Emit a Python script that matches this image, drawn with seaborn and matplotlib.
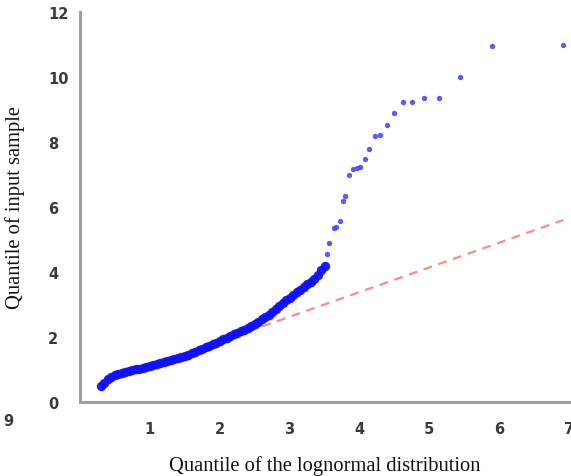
import matplotlib
matplotlib.use("Agg")
import matplotlib.pyplot as plt
import seaborn as sns
import pandas as pd

# dense body of the Q-Q plot (theoretical quantile, sample quantile)
body_x = [0.30, 0.35, 0.40, 0.45, 0.50, 0.55, 0.60, 0.65, 0.70, 0.75,
          0.80, 0.85, 0.90, 0.95, 1.00, 1.05, 1.10, 1.15, 1.20, 1.25,
          1.30, 1.35, 1.40, 1.45, 1.50, 1.55, 1.60, 1.65, 1.70, 1.75,
          1.80, 1.85, 1.90, 1.95, 2.00, 2.05, 2.10, 2.15, 2.20, 2.25,
          2.30, 2.35, 2.40, 2.45, 2.50, 2.55, 2.60, 2.65, 2.70, 2.75,
          2.80, 2.85, 2.90, 2.95, 3.00, 3.05, 3.10, 3.15, 3.20, 3.25,
          3.30, 3.35, 3.40, 3.45, 3.50]
body_y = [0.48, 0.60, 0.70, 0.77, 0.82, 0.86, 0.90, 0.93, 0.96, 0.98,
          1.01, 1.03, 1.06, 1.08, 1.11, 1.14, 1.17, 1.19, 1.22, 1.25,
          1.28, 1.31, 1.34, 1.38, 1.42, 1.46, 1.50, 1.54, 1.59, 1.63,
          1.68, 1.73, 1.78, 1.83, 1.88, 1.93, 1.98, 2.03, 2.08, 2.13,
          2.18, 2.23, 2.29, 2.35, 2.41, 2.47, 2.54, 2.61, 2.69, 2.78,
          2.87, 2.96, 3.05, 3.13, 3.21, 3.30, 3.38, 3.45, 3.53, 3.62,
          3.70, 3.80, 3.91, 4.05, 4.20]

# sparse upper tail
tail_x = [3.53, 3.57, 3.63, 3.67, 3.72, 3.77, 3.80, 3.85, 3.91, 3.96,
          4.01, 4.08, 4.14, 4.23, 4.30, 4.40, 4.50, 4.62, 4.75, 4.93,
          5.14, 5.44, 5.90, 6.92]
tail_y = [4.55, 4.90, 5.36, 5.40, 5.57, 6.18, 6.34, 6.98, 7.17, 7.20,
          7.23, 7.48, 7.78, 8.18, 8.22, 8.53, 8.89, 9.23, 9.23, 9.35,
          9.35, 10.00, 10.95, 10.98]

# reference line end points
ref_x = [0.30, 6.92]
ref_y = [0.57, 5.60]

x_ticks = [1, 2, 3, 4, 5, 6, 7]
y_ticks = [0, 2, 4, 6, 8, 10, 12]

sns.set_style("white")
plt.rcParams["font.family"] = ["DejaVu Sans"]

fig = plt.figure(figsize=(5.71, 4.77), dpi=100)
ax = fig.add_axes([80 / 571, 1 - 403 / 477, (569 - 80) / 571, (403 - 13) / 477])

sns.lineplot(x=ref_x, y=ref_y, ax=ax, color="#ff8a8a", linewidth=1.6,
             linestyle=(0, (4, 3)), zorder=1)
sns.scatterplot(x=body_x, y=body_y, ax=ax, color="#1010ff", s=46,
                linewidth=0, alpha=0.95, zorder=2)
sns.scatterplot(x=tail_x, y=tail_y, ax=ax, color="#4848ff", s=15,
                linewidth=0, alpha=0.9, zorder=2)

ax.set_xlim(0, 7)
ax.set_ylim(0, 12)
ax.set_xticks(x_ticks)
ax.set_yticks(y_ticks)
ax.set_xticklabels([str(t) for t in x_ticks])
ax.set_yticklabels([str(t) for t in y_ticks])

for side in ["top", "right"]:
    ax.spines[side].set_visible(False)
for side in ["left", "bottom"]:
    ax.spines[side].set_color("#a0a0a0")
    ax.spines[side].set_linewidth(2.2)

ax.tick_params(axis="both", direction="in", length=5, width=1.3,
               color="#a0a0a0", labelcolor="#3a3a3a", labelsize=10.5)
ax.tick_params(axis="x", pad=14)
ax.tick_params(axis="y", pad=23)
for lab in ax.get_yticklabels():
    lab.set_horizontalalignment("left")
    lab.set_fontweight("bold")
for lab in ax.get_xticklabels():
    lab.set_fontweight("bold")

ax.set_xlabel("Quantile of the lognormal distribution",
              family=["Liberation Serif", "DejaVu Serif"], fontsize=14.8,
              labelpad=13.5, color="#111111")
ax.set_ylabel("Quantile of input sample",
              family=["Liberation Serif", "DejaVu Serif"], fontsize=14.8,
              color="#111111")
ax.yaxis.set_label_coords(-0.1125, 0.5)

fig.text(3 / 571, 1 - 422 / 477, "9", fontsize=10.5, fontweight="bold",
         color="#3a3a3a", ha="left", va="center")

fig.savefig("out.png", dpi=100)
